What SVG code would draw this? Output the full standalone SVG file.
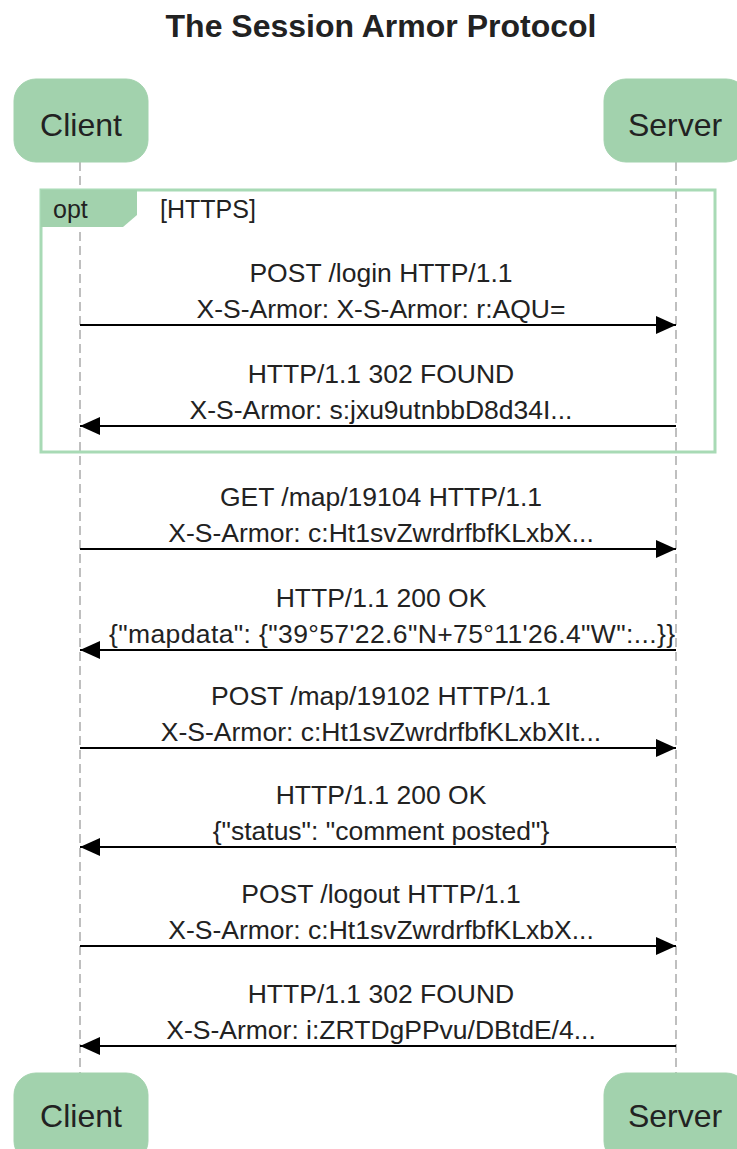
<svg xmlns="http://www.w3.org/2000/svg" width="737" height="1149" viewBox="0 0 737 1149">
<style>
  text { font-family: "Liberation Sans", Arial, sans-serif; fill: #222; }
  .title { font-size: 32px; font-weight: bold; text-anchor: middle; }
  .actor rect { fill: #a2d2ad; stroke: #a2d2ad; stroke-width: 1; }
  .actor text { font-size: 32px; text-anchor: middle; }
  .life { stroke: #aaaaaa; stroke-width: 1.5; stroke-dasharray: 9 5; fill: none; }
  .msg line { stroke: #000; stroke-width: 2; }
  .msg text { font-size: 26.5px; text-anchor: middle; }
  .frame { fill: none; stroke: #a8dab5; stroke-width: 3; }
  .flabel { fill: #a2d2ad; }
  .ftext { font-size: 25px; }
</style>
<defs>
  <marker id="ah" viewBox="0 0 20 18" refX="20" refY="9" markerWidth="20" markerHeight="18" markerUnits="userSpaceOnUse" orient="auto">
    <path d="M0,0 L20,9 L0,18 z" fill="#000"/>
  </marker>
</defs>
<rect width="737" height="1149" fill="#fff"/>
<text class="title" x="381" y="37">The Session Armor Protocol</text>

<g id="lifelines">
  <line class="life" x1="80" y1="162" x2="80" y2="1073"/>
  <line class="life" x1="676" y1="162" x2="676" y2="1073"/>
</g>

<g id="client-top" class="actor">
  <rect x="14" y="79" width="134" height="83" rx="22" ry="22"/>
  <text x="81" y="136">Client</text>
</g>
<g id="server-top" class="actor">
  <rect x="604" y="79" width="144" height="83" rx="22" ry="22"/>
  <text x="675" y="136">Server</text>
</g>

<g id="opt-frame">
  <rect class="frame" x="41" y="190" width="674" height="262"/>
  <path class="flabel" d="M41,190 L137,190 L137,215 L123,227 L41,227 z"/>
  <text class="ftext" x="53" y="218">opt</text>
  <text class="ftext" x="160" y="218">[HTTPS]</text>
</g>

<g id="connectors" class="msg">
  <text x="381" y="282">POST /login HTTP/1.1</text>
  <text x="381" y="318">X-S-Armor: X-S-Armor: r:AQU=</text>
  <line x1="80" y1="325" x2="676" y2="325" marker-end="url(#ah)"/>

  <text x="381" y="383">HTTP/1.1 302 FOUND</text>
  <text x="381" y="419">X-S-Armor: s:jxu9utnbbD8d34I...</text>
  <line x1="676" y1="426" x2="80" y2="426" marker-end="url(#ah)"/>

  <text x="381" y="506">GET /map/19104 HTTP/1.1</text>
  <text x="381" y="542">X-S-Armor: c:Ht1svZwrdrfbfKLxbX...</text>
  <line x1="80" y1="549" x2="676" y2="549" marker-end="url(#ah)"/>

  <text x="381" y="607">HTTP/1.1 200 OK</text>
  <text x="392" y="643" textLength="566" lengthAdjust="spacing">{"mapdata": {"39°57'22.6"N+75°11'26.4"W":...}}</text>
  <line x1="676" y1="650" x2="80" y2="650" marker-end="url(#ah)"/>

  <text x="381" y="705">POST /map/19102 HTTP/1.1</text>
  <text x="381" y="741">X-S-Armor: c:Ht1svZwrdrfbfKLxbXIt...</text>
  <line x1="80" y1="748" x2="676" y2="748" marker-end="url(#ah)"/>

  <text x="381" y="804">HTTP/1.1 200 OK</text>
  <text x="381" y="840">{"status": "comment posted"}</text>
  <line x1="676" y1="847" x2="80" y2="847" marker-end="url(#ah)"/>

  <text x="381" y="903">POST /logout HTTP/1.1</text>
  <text x="381" y="939">X-S-Armor: c:Ht1svZwrdrfbfKLxbX...</text>
  <line x1="80" y1="946" x2="676" y2="946" marker-end="url(#ah)"/>

  <text x="381" y="1003">HTTP/1.1 302 FOUND</text>
  <text x="381" y="1039">X-S-Armor: i:ZRTDgPPvu/DBtdE/4...</text>
  <line x1="676" y1="1046" x2="80" y2="1046" marker-end="url(#ah)"/>
</g>

<g id="client-bottom" class="actor">
  <rect x="14" y="1073" width="134" height="90" rx="22" ry="22"/>
  <text x="81" y="1127">Client</text>
</g>
<g id="server-bottom" class="actor">
  <rect x="604" y="1073" width="144" height="90" rx="22" ry="22"/>
  <text x="675" y="1127">Server</text>
</g>
</svg>
